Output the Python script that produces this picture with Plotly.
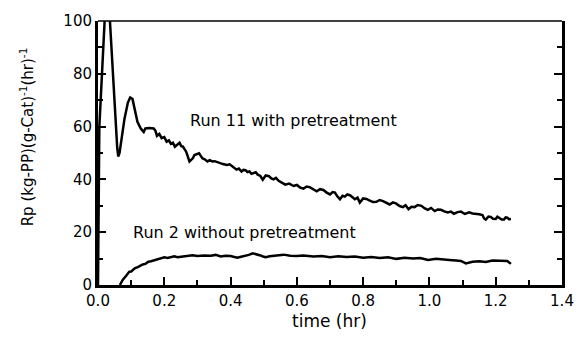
import plotly.graph_objects as go

# Run 11 with pretreatment
run11_x = [0, 0.004, 0.02, 0.024, 0.033, 0.036, 0.058, 0.061, 0.065, 0.072, 0.08, 0.09, 0.097, 0.104, 0.11,
           0.119, 0.129, 0.138, 0.143, 0.155, 0.168, 0.173, 0.178, 0.185, 0.192, 0.2, 0.207, 0.214, 0.22,
           0.226, 0.232, 0.24, 0.246, 0.251, 0.256, 0.261, 0.266, 0.276, 0.281, 0.286, 0.291, 0.296, 0.305,
           0.31, 0.315, 0.322, 0.33, 0.337, 0.345, 0.352, 0.36, 0.369, 0.377, 0.389, 0.397, 0.405, 0.411,
           0.418, 0.425, 0.433, 0.439, 0.445, 0.451, 0.457, 0.463, 0.47, 0.476, 0.482, 0.49, 0.497, 0.506,
           0.516, 0.523, 0.53, 0.537, 0.545, 0.553, 0.565, 0.577, 0.59, 0.6, 0.61, 0.62, 0.63, 0.64, 0.65,
           0.66, 0.67, 0.68, 0.69, 0.70, 0.708, 0.715, 0.722, 0.73, 0.738, 0.745, 0.752, 0.76, 0.768, 0.775,
           0.783, 0.79, 0.80, 0.81, 0.82, 0.83, 0.84, 0.85, 0.86, 0.87, 0.88, 0.89, 0.9, 0.91, 0.92, 0.928,
           0.937, 0.946, 0.955, 0.965, 0.976, 0.985, 0.995, 1.005, 1.016, 1.025, 1.035, 1.045, 1.055, 1.065,
           1.074, 1.085, 1.095, 1.107, 1.12, 1.13, 1.14, 1.15, 1.16, 1.165, 1.17, 1.178, 1.185, 1.192, 1.2,
           1.205, 1.21, 1.218, 1.225, 1.23, 1.235, 1.24, 1.246]
run11_y = [0, 60, 100, 115, 115, 100, 52, 48.7, 50, 56, 63, 69, 71, 70.5, 67,
           61.8, 59.3, 58, 59.3, 59.5, 59.3, 58.5, 56.5, 57.2, 55.6, 56, 54.3, 54.8, 53.5,
           53.9, 52.4, 53.2, 53.9, 52.6, 52.5, 51.5, 50.5, 46.8, 47.5, 48, 49.2, 49.5, 49.9,
           48.9, 48, 47.6, 46.8, 47.3, 46.8, 46.9, 46.5, 46.2, 45.8, 45.5, 45.7, 45, 44.4,
           43.7, 44.1, 43, 43.6, 43.5, 42.8, 43, 42.1, 42.5, 42.7, 41.8, 41.3, 39.9, 41.5,
           41.2, 40.4, 40, 40.6, 39.5, 38.9, 38, 38.4, 37.5, 37.9, 36.9, 36.5, 37.3, 37, 36.2,
           35.5, 36.3, 36, 35, 34.3, 35.2, 35, 33.6, 32.5, 33.8, 33.5, 34.3, 34, 33.2, 32.5,
           33.1, 31.2, 32.8, 32.6, 32, 31.4, 31.5, 32.2, 31.8, 31, 30.5, 31.3, 30.8, 29.9, 29.5, 30.2,
           28.7, 29.6, 29.5, 30.3, 30, 29.1, 28.5, 29.2, 28, 28.6, 28.5, 27.9, 27.5, 27.8,
           27, 27.6, 27.8, 26.9, 27.5, 27.1, 27, 26.8, 26.5, 25.2, 24.8, 25.9, 25.8, 25.1, 25,
           25.9, 25.5, 24.8, 24.8, 25.6, 25.5, 24.9, 25]

# Run 2 without pretreatment
run2_x = [0.066, 0.075, 0.085, 0.094, 0.1, 0.105, 0.112, 0.12, 0.128, 0.135, 0.143, 0.152, 0.16, 0.168,
          0.175, 0.183, 0.19, 0.2, 0.21, 0.22, 0.23, 0.24, 0.255, 0.27, 0.285, 0.3, 0.32, 0.34, 0.355,
          0.37, 0.385, 0.4, 0.41, 0.42, 0.432, 0.445, 0.455, 0.467, 0.478, 0.49, 0.498, 0.506, 0.518,
          0.53, 0.545, 0.56, 0.58, 0.6, 0.62, 0.65, 0.675, 0.7, 0.725, 0.75, 0.775, 0.8, 0.825, 0.85,
          0.875, 0.9, 0.925, 0.95, 0.972, 0.996, 1.02, 1.04, 1.06, 1.08, 1.095, 1.11, 1.13, 1.15, 1.17,
          1.19, 1.205, 1.22, 1.235, 1.246]
run2_y = [0, 2, 3.5, 5, 5.1, 5.8, 6.4, 6.8, 7.5, 7.8, 8, 8.8, 9, 9.3,
          9.5, 9.9, 10.2, 10.5, 10.2, 10.5, 10.9, 10.5, 10.8, 11, 11.3, 11, 11.2, 11.1, 11.4,
          10.8, 11.1, 11, 10.7, 10.3, 10.7, 11, 11.4, 12, 11.7, 11.2, 10.8, 10.5, 10.9,
          11, 11.3, 11.5, 11.1, 11, 11.2, 10.8, 11, 10.5, 10.9, 10.6, 10.8, 10.3, 10.6, 10.2,
          10.5, 9.9, 10.3, 10, 10.2, 9.5, 9.9, 9.8, 9.5, 9.3, 9.1, 8.2, 8.8, 9, 8.7,
          9.3, 9.2, 9, 9.1, 8]

x_ticks = [0.0, 0.2, 0.4, 0.6, 0.8, 1.0, 1.2, 1.4]
y_ticks = [0, 20, 40, 60, 80, 100]

FONT = "DejaVu Sans, sans-serif"

fig = go.Figure()
fig.add_trace(go.Scatter(x=run11_x, y=run11_y, mode="lines",
                         line=dict(color="black", width=2.5), showlegend=False))
fig.add_trace(go.Scatter(x=run2_x, y=run2_y, mode="lines",
                         line=dict(color="black", width=2.5), showlegend=False))

fig.update_layout(
    width=586, height=345,
    margin=dict(l=98, r=13, t=18, b=60),
    plot_bgcolor="white",
    font=dict(family=FONT, size=15),
    xaxis=dict(range=[x_ticks[0], x_ticks[-1]], tickvals=x_ticks,
               showgrid=False, zeroline=False,
               showline=True, linecolor="black", linewidth=3,
               ticks="inside", ticklen=8, tickwidth=2, tickcolor="black",
               minor=dict(dtick=(x_ticks[1] - x_ticks[0]) / 2, ticks="inside", ticklen=5,
                          tickwidth=2, tickcolor="black"),
               tickformat=".1f",
               tickfont=dict(size=15, color="black")),
    yaxis=dict(range=[y_ticks[0], y_ticks[-1]], tickvals=y_ticks,
               showgrid=False, zeroline=False,
               showline=True, linecolor="black", linewidth=3, mirror="ticks",
               ticks="inside", ticklen=8, tickwidth=2, tickcolor="black",
               minor=dict(dtick=(y_ticks[1] - y_ticks[0]) / 2, ticks="inside", ticklen=5,
                          tickwidth=2, tickcolor="black"),
               tickfont=dict(size=15, color="black")),
)

# thin top border
fig.add_shape(type="line", xref="paper", yref="paper", x0=0, x1=1, y0=1, y1=1,
              line=dict(color="black", width=1.5))

fig.add_annotation(x=0.271, y=62.2, xref="x", yref="y", text="Run 11 with pretreatment",
                   showarrow=False, xanchor="left", yanchor="middle",
                   font=dict(size=16, color="black"))
fig.add_annotation(x=0.1, y=19.8, xref="x", yref="y", text="Run 2 without pretreatment",
                   showarrow=False, xanchor="left", yanchor="middle",
                   font=dict(size=16, color="black"))

fig.add_annotation(x=0.499, y=-0.137, xref="paper", yref="paper", text="time (hr)",
                   showarrow=False, xanchor="center", yanchor="middle",
                   font=dict(size=17, color="black"))
fig.add_annotation(x=-0.1537, y=0.562, xref="paper", yref="paper",
                   text="Rp (kg-PP)(g-Cat)<sup>-1</sup>(hr)<sup>-1</sup>",
                   showarrow=False, textangle=-90, xanchor="center", yanchor="middle",
                   font=dict(size=15, color="black"))

fig.write_html("out.html")
